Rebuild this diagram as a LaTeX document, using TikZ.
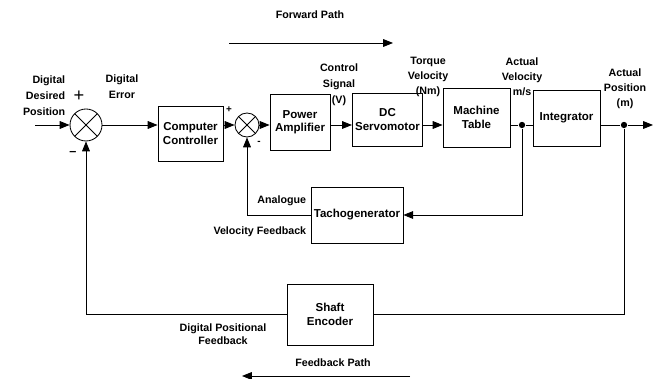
\documentclass[tikz,border=0pt]{standalone}
\usepackage{fontspec}
\setmainfont{Liberation Sans}
\usetikzlibrary{arrows.meta, positioning, calc}

\newcommand{\pxu}{0.025cm}

\tikzset{
    block/.style={draw, rectangle, align=center, inner sep=2pt,
                  font=\fontsize{8.2}{9.6}\selectfont\bfseries},
    summer/.style={draw, circle, inner sep=0pt, minimum size=#1*\pxu,
                   path picture={
                     \draw (path picture bounding box.north west) -- (path picture bounding box.south east)
                           (path picture bounding box.north east) -- (path picture bounding box.south west);}},
    dot/.style={circle, fill, inner sep=0pt, minimum size=4.5pt},
    lbl/.style={align=center, inner sep=1pt,
                font=\fontsize{7.6}{11.5}\selectfont\bfseries},
    sign/.style={inner sep=0pt, font=\fontsize{9}{9}\selectfont},
    arr/.style={-{Triangle[length=7pt,width=5.5pt]}},
}

\begin{document}
\begin{tikzpicture}[x=\pxu, y=-\pxu, line width=0.6pt]
    \useasboundingbox (0,0) rectangle (664,379);

    % forward chain
    \node[summer=32] (sum1) at (86,125) {};
    \node[block, minimum width=65*\pxu, minimum height=55*\pxu] (ctrl) at (190.5,133.5) {Computer\\Controller};
    \node[summer=24] (sum2) at (247,125) {};
    \node[block, minimum width=60*\pxu, minimum height=56*\pxu] (pamp) at (300,122) {Power\\Amplifier};
    \node[block, minimum width=65*\pxu, minimum height=53*\pxu] (servo) at (387.5,119.5) {DC\\Servomotor};
    \node[block, minimum width=67*\pxu, minimum height=59*\pxu] (table) at (476.5,117.5) {Machine\\Table};
    \node[dot] (jvel) at (522,125) {};
    \node[block, minimum width=67*\pxu, minimum height=56*\pxu] (integ) at (566.5,118) {Integrator};
    \node[dot] (jpos) at (624,125) {};
    \coordinate (in) at (35,125);
    \coordinate (out) at (653,125);

    % feedback blocks
    \node[block, minimum width=90*\pxu, minimum height=56*\pxu] (tacho) at (357,215) {Tachogenerator};
    \node[block, minimum width=86*\pxu, minimum height=61*\pxu] (shaft) at (330,314.5) {Shaft\\Encoder};

    % connectors
    \draw[arr] (in) -- (sum1.west);
    \draw[arr] (sum1.east) -- (sum1.east -| ctrl.west);
    \draw[arr] (ctrl.east |- sum2) -- (sum2.west);
    \draw[arr] (sum2.east) -- (sum2 -| pamp.west);
    \draw[arr] (pamp.east |- sum2) -- (servo.west |- sum2);
    \draw[arr] (servo.east |- sum2) -- (table.west |- sum2);
    \draw (table.east |- jvel) -- (jvel) -- (integ.west |- jvel);
    \draw[arr] (integ.east |- jpos) -- (jpos) -- (out);
    \draw[arr] (jvel) |- (tacho.east);
    \draw[arr] (tacho.west) -| (sum2.south);
    \draw (jpos) |- (shaft.east);
    \draw[arr] (shaft.west) -| (sum1.south);

    % signs
    \node[sign, font=\fontsize{13}{13}\selectfont] (p1) at (79,96) {+};
    \node[sign] (m1) at (73,153) {\textbf{--}};
    \node[sign, font=\fontsize{7}{7}\selectfont\bfseries] (p2) at (229,110) {+};
    \node[sign, font=\fontsize{7}{7}\selectfont\bfseries] (m2) at (259,143) {-};

    % signal labels
    \node[lbl, align=right, anchor=east] (desired) at (67,96) {Digital\\Desired\\Position};
    \node[lbl] (err) at (122,87) {Digital\\Error};
    \node[lbl] (ctrlsig) at (339,85) {Control\\Signal\\(V)};
    \node[lbl, font=\fontsize{7.6}{10.5}\selectfont\bfseries] (torque) at (428,77) {Torque\\Velocity\\(Nm)};
    \node[lbl, font=\fontsize{7.6}{10.5}\selectfont\bfseries] (actvel) at (522,77) {Actual\\Velocity\\m/s};
    \node[lbl, font=\fontsize{7.6}{10.5}\selectfont\bfseries] (actpos) at (625,89) {Actual\\Position\\(m)};
    \node[lbl, anchor=east] (analog) at (308,201) {Analogue};
    \node[lbl, anchor=east] (velfb) at (308,232) {Velocity Feedback};
    \node[lbl, font=\fontsize{7.6}{8.8}\selectfont\bfseries] (posfb) at (223,334) {Digital Positional\\Feedback};

    % path arrows
    \node[lbl] (fwd) at (310,15) {Forward Path};
    \coordinate (fwdA) at (229,43);
    \coordinate (fwdB) at (393,43);
    \draw[arr] (fwdA) -- (fwdB);
    \node[lbl] (back) at (333,363) {Feedback Path};
    \coordinate (backA) at (410,376);
    \coordinate (backB) at (242,376);
    \draw[arr] (backA) -- (backB);
\end{tikzpicture}
\end{document}
